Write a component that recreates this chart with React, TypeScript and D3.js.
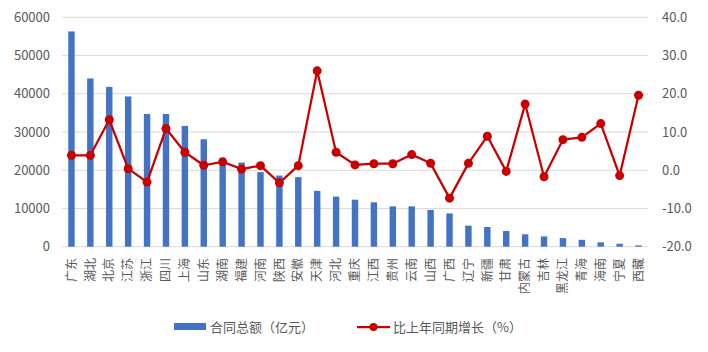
import * as d3 from 'd3'

const provinces = ['广东', '湖北', '北京', '江苏', '浙江', '四川', '上海', '山东', '湖南', '福建', '河南', '陕西', '安徽', '天津', '河北', '重庆', '江西', '贵州', '云南', '山西', '广西', '辽宁', '新疆', '甘肃', '内蒙古', '吉林', '黑龙江', '青海', '海南', '宁夏', '西藏']
const contractTotal = [56300, 44000, 41800, 39300, 34700, 34700, 31600, 28100, 23200, 22000, 19500, 18600, 18200, 14600, 13100, 12300, 11600, 10550, 10550, 9600, 8700, 5500, 5150, 4100, 3250, 2700, 2250, 1800, 1150, 780, 350]
const growthPct = [3.9, 3.9, 13.2, 0.4, -3.1, 10.9, 4.7, 1.3, 2.2, 0.3, 1.2, -3.3, 1.2, 26.0, 4.7, 1.4, 1.7, 1.7, 4.1, 1.8, -7.3, 1.8, 8.9, -0.3, 17.3, -1.7, 8.0, 8.6, 12.2, -1.4, 19.6]
const leftTicks = [0, 10000, 20000, 30000, 40000, 50000, 60000]
const rightTicks = [-20, -10, 0, 10, 20, 30, 40]
const barLabel = '合同总额（亿元）'
const lineLabel = '比上年同期增长（%）'

const W = 708
const H = 352
const FONT = '"Noto Sans CJK SC", "Noto Sans", sans-serif'
const BLUE = '#4472c4'
const RED = '#c80000'
const GRAY = '#595959'

export default function App() {
  const x = d3.scaleBand<string>().domain(provinces).range([62, 648]).paddingInner(0.66).paddingOuter(0.33)
  const yL = d3.scaleLinear().domain([0, 60000]).range([246.7, 17.3])
  const yR = d3.scaleLinear().domain([-20, 40]).range([246.7, 17.3])

  const pts = provinces.map((p, i) => ({ p, v: growthPct[i] }))
  const cx = (p: string) => (x(p) ?? 0) + x.bandwidth() / 2
  const line = d3.line<{ p: string; v: number }>()
    .x((d) => cx(d.p))
    .y((d) => yR(d.v))

  return (
    <svg width={W} height={H} style={{ position: 'absolute', left: 0, top: 0, background: '#fff' }} fontFamily={FONT}>
      {leftTicks.map((t) => (
        <line key={t} x1={62} x2={648} y1={yL(t)} y2={yL(t)} stroke="#d9d9d9" strokeWidth={1} />
      ))}
      {leftTicks.map((t) => (
        <text key={t} x={50} y={yL(t)} dy="0.35em" textAnchor="end" fontSize={13} fill={GRAY}>{t}</text>
      ))}
      {rightTicks.map((t) => (
        <text key={t} x={662} y={yR(t)} dy="0.35em" textAnchor="start" fontSize={13} fill={GRAY}>{t.toFixed(1)}</text>
      ))}
      {provinces.map((p, i) => (
        <rect key={p} x={x(p)} y={yL(contractTotal[i])} width={x.bandwidth()} height={yL(0) - yL(contractTotal[i])} fill={BLUE} />
      ))}
      <path d={line(pts) ?? ''} fill="none" stroke={RED} strokeWidth={2.25} strokeLinejoin="round" />
      {pts.map((d) => (
        <circle key={d.p} cx={cx(d.p)} cy={yR(d.v)} r={4.5} fill={RED} />
      ))}
      {provinces.map((p) => (
        <text key={p} transform={`translate(${cx(p)},${258}) rotate(-90)`}
          textAnchor="end" dy="0.35em" fontSize={12} fill={GRAY}>{p}</text>
      ))}
      <rect x={174} y={323} width={32} height={7} fill={BLUE} />
      <text x={210} y={327} dy="0.35em" fontSize={13} fill={GRAY}>{barLabel}</text>
      <line x1={357} x2={390} y1={327} y2={327} stroke={RED} strokeWidth={2.25} />
      <circle cx={373.5} cy={327} r={4} fill={RED} />
      <text x={393} y={327} dy="0.35em" fontSize={13} fill={GRAY}>{lineLabel}</text>
    </svg>
  )
}
